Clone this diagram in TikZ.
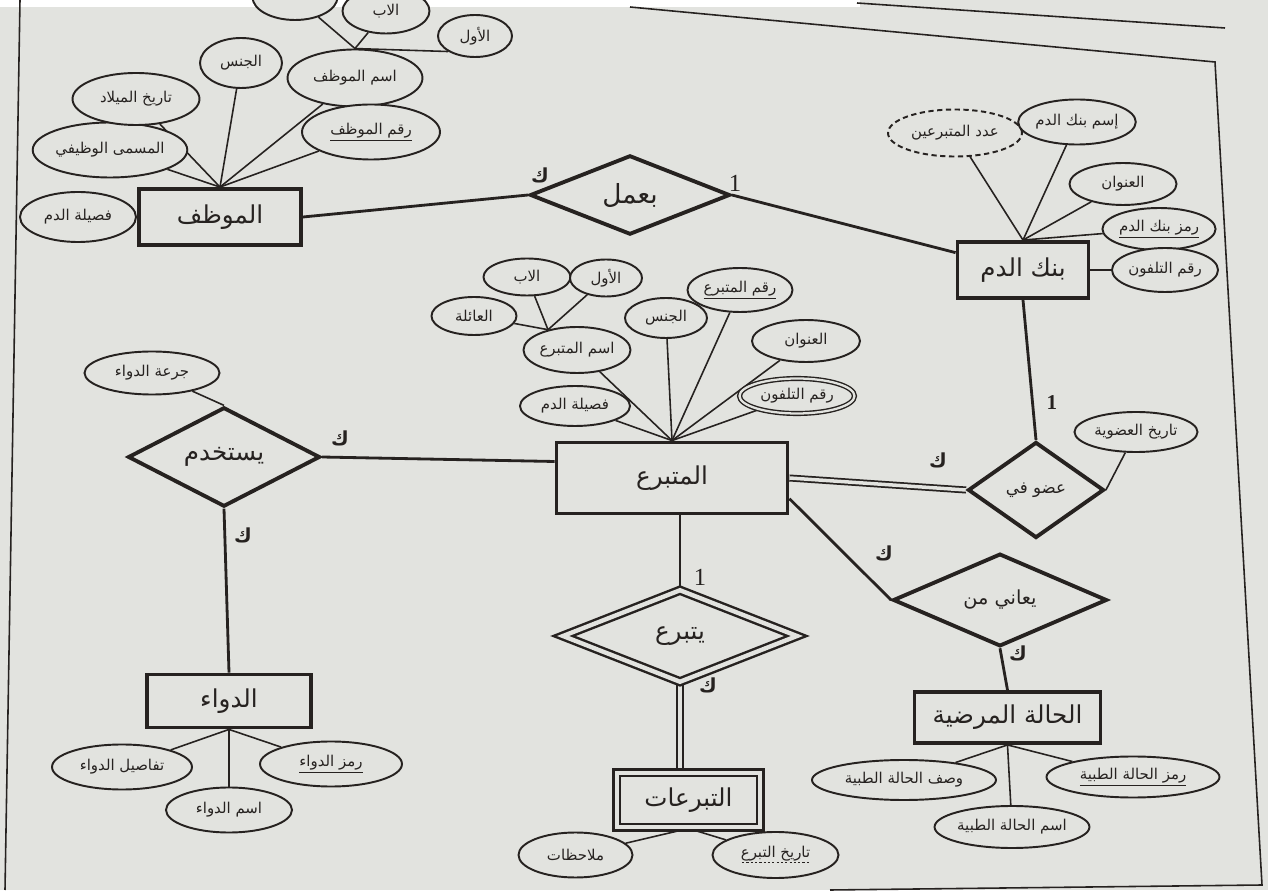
\documentclass[tikz,border=0pt]{standalone}
\usepackage{fontspec}
\setmainfont{Liberation Serif}
\newfontfamily\arabicfont[Script=Arabic]{DejaVu Sans}
\TeXXeTstate=1
\usepackage{tikz}
\usetikzlibrary{shapes,positioning,backgrounds}
\pgfdeclarelayer{paperlayer}
\pgfsetlayers{paperlayer,background,main}
\newcommand{\artext}[1]{{\arabicfont\beginR #1\endR}}
\newcommand{\arkey}[1]{\underline{\arabicfont\beginR #1\endR}}
\newcommand{\arpartkey}[1]{\setbox0\hbox{\arabicfont\beginR #1\endR}%
  \ooalign{\copy0\cr\hbox to\wd0{\xleaders\hbox to 2.4pt{\hss\vrule width 1.3pt height -2.6pt depth 3.2pt\hss}\hfill}\cr}}
\definecolor{ink}{RGB}{38,34,32}
\definecolor{paper}{RGB}{226,227,223}
\tikzstyle{entity} = [rectangle, draw=ink, line width=2.2pt, fill=paper, text=ink, inner sep=0pt, font=\fontsize{14}{16}\selectfont]
\tikzstyle{weakentity} = [entity, line width=1.4pt, double=paper, double distance=2.5pt]
\tikzstyle{rel} = [diamond, draw=ink, line width=2.2pt, fill=paper, text=ink, inner sep=0pt, font=\fontsize{14}{16}\selectfont]
\tikzstyle{weakrel} = [rel, line width=1.4pt, double=paper, double distance=2.5pt]
\tikzstyle{attr} = [ellipse, draw=ink, line width=1.1pt, fill=paper, text=ink, inner sep=0pt, font=\fontsize{8.5}{10}\selectfont]
\tikzstyle{multiattr} = [attr, line width=0.8pt, double=paper, double distance=1.3pt]
\tikzstyle{derivedattr} = [attr, dash pattern=on 3pt off 2pt]
\tikzstyle{alink} = [draw=ink, line width=0.9pt]
\tikzstyle{rlink} = [draw=ink, line width=1.6pt]
\tikzstyle{tlink} = [draw=ink, line width=1pt, double=paper, double distance=2pt]
\tikzstyle{card} = [text=ink, inner sep=0pt, font=\arabicfont\bfseries\fontsize{11}{13}\selectfont]
\tikzstyle{one} = [text=ink, inner sep=0pt, font=\fontsize{14}{16}\selectfont]

\begin{document}
\begin{tikzpicture}[on grid]

% page =============================
\useasboundingbox (0,0) rectangle (25.36,17.8);
\begin{pgfonlayer}{paperlayer}
\fill[paper] (0,0) rectangle (25.36,17.8);
\fill[white] (0,17.66) rectangle (17.2,17.8);
\draw[ink, line width=0.9pt] (0.40,17.8) -- (0.10,0);
\draw[ink, line width=0.9pt] (12.6,17.66) -- (24.30,16.56) -- (25.24,0.10) -- (16.6,0);
\draw[ink, line width=0.9pt] (17.14,17.74) -- (24.50,17.24);
\end{pgfonlayer}
\clip (0,0) rectangle (25.36,17.8);

% entities =============================
\node[entity, minimum width=3.24cm, minimum height=1.12cm] (emp) at (4.40,13.46) {\artext{الموظف}};
\node[entity, minimum width=2.62cm, minimum height=1.12cm] (bank) at (20.46,12.40) {\artext{بنك الدم}};
\node[entity, minimum width=4.62cm, minimum height=1.42cm] (donor) at (13.44,8.24) {\artext{المتبرع}};
\node[entity, minimum width=3.28cm, minimum height=1.06cm] (drug) at (4.58,3.78) {\artext{الدواء}};
\node[weakentity, minimum width=2.87cm, minimum height=1.09cm] (donations) at (13.77,1.80) {\artext{التبرعات}};
\node[entity, minimum width=3.72cm, minimum height=1.02cm] (cond) at (20.15,3.45) {\artext{الحالة المرضية}};

% relationships
\node[rel, minimum width=4.0cm, minimum height=1.2cm, font=\fontsize{15}{17}\selectfont] (works) at (12.60,13.90) {\artext{بعمل}};
\node[rel, minimum width=2.72cm, minimum height=1.92cm, font=\fontsize{9.5}{11}\selectfont] (member) at (20.72,8.00) {\artext{عضو في}};
\node[rel, minimum width=3.84cm, minimum height=1.32cm] (uses) at (4.48,8.66) {\artext{يستخدم}};
\node[weakrel, minimum width=4.7cm, minimum height=1.85cm] (donates) at (13.60,5.08) {\artext{يتبرع}};
\node[rel, minimum width=4.28cm, minimum height=1.68cm, font=\fontsize{11}{13}\selectfont] (suffers) at (20.00,5.80) {\artext{يعاني من}};

% attributes of the employee
\node[attr, minimum width=2.32cm, minimum height=1.0cm, left=2.84cm of emp] (e_blood) {\artext{فصيلة الدم}};
\node[attr, minimum width=2.88cm, minimum height=1.1cm, above left=1.34cm and 2.2cm of emp] (e_title) {\artext{المسمى الوظيفي}};
\node[attr, minimum width=2.54cm, minimum height=1.04cm, above left=2.36cm and 1.68cm of emp] (e_birth) {\artext{تاريخ الميلاد}};
\node[attr, minimum width=1.64cm, minimum height=1.0cm, above right=3.08cm and 0.42cm of emp] (e_gender) {\artext{الجنس}};
\node[attr, minimum width=2.7cm, minimum height=1.14cm, above right=2.78cm and 2.7cm of emp] (e_name) {\artext{اسم الموظف}};
\node[attr, minimum width=2.76cm, minimum height=1.1cm, above right=1.7cm and 3.02cm of emp] (e_id) {\arkey{رقم الموظف}};
\node[attr, minimum width=1.48cm, minimum height=0.84cm, above right=0.84cm and 2.4cm of e_name] (e_first) {\artext{الأول}};
\node[attr, minimum width=1.74cm, minimum height=0.9cm, above right=1.34cm and 0.62cm of e_name] (e_father) {\artext{الاب}};
\node[attr, minimum width=1.7cm, minimum height=0.92cm, above left=1.62cm and 1.2cm of e_name] (e_family) {};

% attributes of the blood bank
\node[derivedattr, minimum width=2.68cm, minimum height=0.94cm, above left=2.74cm and 1.36cm of bank] (b_count) {\artext{عدد المتبرعين}};
\node[attr, minimum width=2.18cm, minimum height=0.9cm, above right=2.96cm and 1.08cm of bank] (b_name) {\artext{إسم بنك الدم}};
\node[attr, minimum width=2.14cm, minimum height=0.84cm, above right=1.72cm and 2.0cm of bank] (b_addr) {\artext{العنوان}};
\node[attr, minimum width=2.12cm, minimum height=0.84cm, above right=0.82cm and 2.72cm of bank] (b_code) {\arkey{رمز بنك الدم}};
\node[attr, minimum width=2.12cm, minimum height=0.88cm, right=2.84cm of bank] (b_phone) {\artext{رقم التلفون}};

% attributes of the donor
\node[attr, minimum width=2.2cm, minimum height=0.8cm, above left=1.44cm and 1.94cm of donor] (d_blood) {\artext{فصيلة الدم}};
\node[attr, minimum width=2.14cm, minimum height=0.92cm, above left=2.56cm and 1.9cm of donor] (d_name) {\artext{اسم المتبرع}};
\node[attr, minimum width=1.64cm, minimum height=0.8cm, above left=3.2cm and 0.12cm of donor] (d_gender) {\artext{الجنس}};
\node[attr, minimum width=2.1cm, minimum height=0.88cm, above right=3.76cm and 1.36cm of donor] (d_id) {\arkey{رقم المتبرع}};
\node[attr, minimum width=2.16cm, minimum height=0.84cm, above right=2.74cm and 2.68cm of donor] (d_addr) {\artext{العنوان}};
\node[multiattr, minimum width=2.3cm, minimum height=0.7cm, above right=1.64cm and 2.5cm of donor] (d_phone) {\artext{رقم التلفون}};
\node[attr, minimum width=1.7cm, minimum height=0.76cm, above left=0.68cm and 2.06cm of d_name] (d_family) {\artext{العائلة}};
\node[attr, minimum width=1.74cm, minimum height=0.74cm, above left=1.46cm and 1.0cm of d_name] (d_father) {\artext{الاب}};
\node[attr, minimum width=1.44cm, minimum height=0.74cm, above right=1.44cm and 0.58cm of d_name] (d_first) {\artext{الأول}};

% other attributes
\node[attr, minimum width=2.46cm, minimum height=0.8cm, above right=1.16cm and 2.0cm of member] (m_date) {\artext{تاريخ العضوية}};
\node[attr, minimum width=2.7cm, minimum height=0.86cm, above left=1.68cm and 1.44cm of uses] (u_dose) {\artext{جرعة الدواء}};
\node[attr, minimum width=2.8cm, minimum height=0.9cm, below left=1.32cm and 2.14cm of drug] (g_details) {\artext{تفاصيل الدواء}};
\node[attr, minimum width=2.84cm, minimum height=0.9cm, below right=1.26cm and 2.04cm of drug] (g_code) {\arkey{رمز الدواء}};
\node[attr, minimum width=2.52cm, minimum height=0.9cm, below=2.18cm of drug] (g_name) {\artext{اسم الدواء}};
\node[attr, minimum width=2.28cm, minimum height=0.9cm, below left=1.1cm and 2.26cm of donations] (n_notes) {\artext{ملاحظات}};
\node[attr, minimum width=2.52cm, minimum height=0.92cm, below right=1.1cm and 1.74cm of donations] (n_date) {\arpartkey{تاريخ التبرع}};
\node[attr, minimum width=3.68cm, minimum height=0.8cm, below left=1.25cm and 2.07cm of cond] (c_desc) {\artext{وصف الحالة الطبية}};
\node[attr, minimum width=3.46cm, minimum height=0.82cm, below right=1.19cm and 2.51cm of cond] (c_code) {\arkey{رمز الحالة الطبية}};
\node[attr, minimum width=2.96cm, minimum height=0.84cm, below right=2.19cm and 0.09cm of cond] (c_name) {\artext{اسم الحالة الطبية}};

% cardinalities
\node[card] (k_works) at (10.80,14.30) {\artext{ك}};
\node[one] (o_works) at (14.70,14.14) {1};
\node[one, font=\bfseries\fontsize{12}{14}\selectfont] (o_member) at (21.04,9.74) {1};
\node[card] (k_member) at (18.76,8.60) {\artext{ك}};
\node[card] (k_uses) at (6.80,9.04) {\artext{ك}};
\node[card] (k_drug) at (4.86,7.10) {\artext{ك}};
\node[one] (o_donates) at (14.00,6.26) {1};
\node[card] (k_donates) at (14.16,4.10) {\artext{ك}};
\node[card] (k_suffers) at (17.68,6.74) {\artext{ك}};
\node[card] (k_cond) at (20.36,4.74) {\artext{ك}};

% edges =============================
\begin{pgfonlayer}{background}
\path[alink] (emp) -- (e_blood);
\path[alink] (emp.north) -- (e_title);
\path[alink] (emp.north) -- (e_birth);
\path[alink] (emp.north) -- (e_gender);
\path[alink] (emp.north) -- (e_name);
\path[alink] (emp.north) -- (e_id);
\path[alink] (e_name.north) -- (e_first.south west);
\path[alink] (e_name.north) -- (e_father);
\path[alink] (e_name.north) -- (e_family);

\path[alink] (bank.north) -- (b_count);
\path[alink] (bank.north) -- (b_name);
\path[alink] (bank.north) -- (b_addr);
\path[alink] (bank.north) -- (b_code);
\path[alink] (bank) -- (b_phone);

\path[alink] (donor.north) -- (d_blood);
\path[alink] (donor.north) -- (d_name);
\path[alink] (donor.north) -- (d_gender);
\path[alink] (donor.north) -- (d_id);
\path[alink] (donor.north) -- (d_addr);
\path[alink] (donor.north) -- (d_phone);
\path[alink] (d_name.145) -- (d_family);
\path[alink] (d_name.145) -- (d_father);
\path[alink] (d_name.145) -- (d_first);

\path[alink] (member.east) -- (m_date);
\path[alink] (uses.north) -- (u_dose);
\path[alink] (drug.south) -- (g_details);
\path[alink] (drug.south) -- (g_name);
\path[alink] (drug.south) -- (g_code);
\path[alink] (donations.south) -- (n_notes);
\path[alink] (donations.south) -- (n_date);
\path[alink] (cond.south) -- (c_desc);
\path[alink] (cond.south) -- (c_name);
\path[alink] (cond.south) -- (c_code);

\path[rlink] (emp.east) -- (works.west);
\path[rlink] (works.east) -- (bank);
\path[rlink] (bank.south) -- (member.north);
\path[tlink] (donor.east) -- (member.west);
\path[rlink] (donor.-10) -- (suffers.west);
\path[rlink] (suffers.south) -- (cond.north);
\path[rlink] (donates.north |- donor.south) -- (donates.north);
\path[tlink] (donates.south) -- (donates.south |- donations.north);
\path[rlink] (uses.east) -- (donor.172);
\path[rlink] (uses.south) -- (drug.north);
\end{pgfonlayer}

\end{tikzpicture}
\end{document}
